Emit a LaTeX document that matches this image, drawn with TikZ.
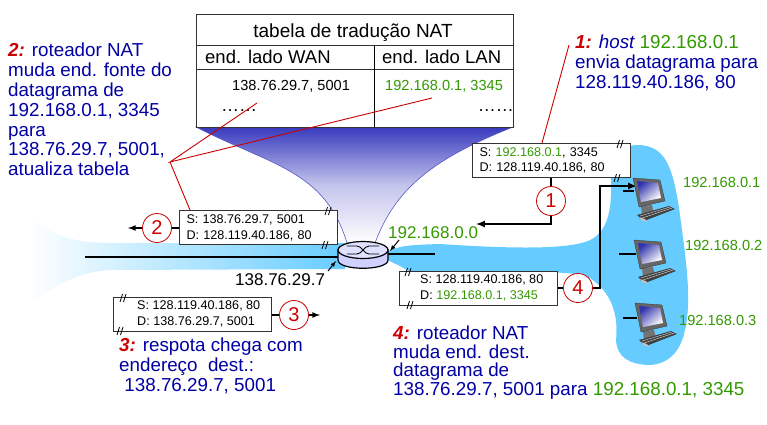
\documentclass[tikz,border=0pt]{standalone}
\usepackage{fontspec}
\setmainfont{Liberation Sans}
\usetikzlibrary{positioning,shapes.geometric}
\definecolor{mygreen}{RGB}{51, 153, 0}
\definecolor{myblue}{RGB}{0, 0, 165}
\definecolor{myred}{RGB}{204, 0, 0}
\definecolor{mylan}{RGB}{102, 204, 255}
\definecolor{myfunnel}{RGB}{56, 58, 190}
\newcommand{\fs}[1]{\fontsize{#1}{#1}\selectfont}
\newcommand{\hdr}[1]{{\color{myred}\bfseries\itshape #1}}
\newcommand{\grn}[1]{{\color{mygreen}#1}}
\tikzset{
    cutmark/.pic={
        \draw[black, line width=0.8pt] (-2,4) -- (0.5,-4) (1.5,4) -- (4,-4);
    },
    pc/.pic={
        \fill[black!55] (8,28) -- (9,37) -- (21,36) -- (19,27) -- cycle;
        \fill[black!70] (5,37) -- (7,41) -- (27,36) -- (25,33) -- cycle;
        \fill[black!60, draw=black!80, line width=0.3pt] (0,0) -- (27,2) -- (32,23) -- (6,29) -- cycle;
        \shade[top color=myfunnel!90!black, bottom color=white, shading angle=40] (4,3) -- (25,5) -- (28,20) -- (8,24) -- cycle;
        \fill[black!75] (4,37) -- (36,28) -- (42,31) -- (11,43) -- cycle;
        \fill[black!25] (6,39) -- (12,41) -- (14,44) -- (8,42) -- cycle;
        \draw[white, line width=0.3pt] (7,38) -- (37,29) (9,40) -- (39,30);
    }
}
\begin{document}
\begin{tikzpicture}[x=1pt,y=-1pt]
    \useasboundingbox (0,0) rectangle (767,424);

    \tikzstyle{bluetext}=[anchor=north west, inner sep=0pt, align=left, color=myblue, font=\fontsize{18.8}{19.8}\selectfont]
    \tikzstyle{ip}=[inner sep=0pt, color=mygreen, font=\fs{14.6}]
    \tikzstyle{pkt}=[draw=black!80, fill=white, line width=1pt, anchor=north west, minimum width=158pt, minimum height=34pt, align=left, inner ysep=0pt, font=\fontsize{12.6}{15.8}\selectfont]
    \tikzstyle{num}=[circle, draw=myred, fill=white, line width=0.8pt, minimum size=29pt, inner sep=0pt, text=myred, font=\fs{20}]
    \tikzstyle{bind}=[->, >=latex, black, line width=2pt]
    \tikzstyle{seg}=[black, line width=1.6pt]
    \tikzstyle{callout}=[myred, line width=0.9pt]

    % networks
    \shade[left color=white, right color=mylan] (27,213) .. controls (50,238) and (80,243) .. (110,243) -- (345,243) -- (345,269) -- (110,270) .. controls (80,272) and (50,285) .. (27,310) -- cycle;
    \fill[mylan] (380,256) .. controls (395,245) and (410,245) .. (440,244) .. controls (500,248) and (560,250) .. (585,242) .. controls (608,235) and (612,210) .. (611,180) .. controls (608,160) and (620,144) .. (640,145) .. controls (665,147) and (673,165) .. (680,215) .. controls (686,260) and (692,300) .. (685,330) .. controls (680,355) and (665,365) .. (648,365) .. controls (630,364) and (617,358) .. (616,340) .. controls (618,320) and (615,295) .. (590,278) .. controls (575,272) and (560,273) .. (540,272) -- (410,272) .. controls (400,265) and (390,262) .. (380,256) -- cycle;

    % funnel
    \shade[top color=myfunnel, bottom color=white, middle color=myfunnel!30, draw=myfunnel!85, line width=0.6pt] (196,127) .. controls (270,165) and (325,170) .. (347,243) -- (375,243) .. controls (395,190) and (430,160) .. (513,127) -- cycle;

    % wires
    \draw[black, line width=1.4pt] (85,257) -- (345,257);
    \draw[black, line width=1.4pt] (380,254) -- (435,254);

    % router
    \draw[black, line width=1.2pt, fill=blue!18] (338,250) -- (338,260) .. controls (338,271) and (388,271) .. (388,260) -- (388,250) -- cycle;
    \node[ellipse, draw=black, line width=1.2pt, fill=blue!12, minimum width=50pt, minimum height=17pt, inner sep=0pt] (router) at (363,250) {};
    \draw[black, line width=0.9pt] (347,246) -- (357,246) .. controls (362,246) and (364,254) .. (369,254) -- (379,254);
    \draw[black, line width=0.9pt] (347,254) -- (357,254) .. controls (362,254) and (364,246) .. (369,246) -- (379,246);

    % table
    \node[draw=black!80, fill=white, line width=1pt, anchor=north west, minimum width=317pt, minimum height=113pt, inner sep=0pt] (tabela) at (196,14) {};
    \draw[black!80, line width=0.8pt] (196,45) -- (513,45);
    \draw[black!80, line width=0.8pt] (196,69) -- (513,69);
    \draw[black, line width=0.8pt] (374,45) -- (374,127);
    \node[inner sep=0pt, font=\fs{19}] (titulo) at (353,33) {tabela de tradução NAT};
    \node[inner sep=0pt, anchor=west, font=\fs{18.5}] (wan) at (205,57) {end. lado WAN};
    \node[inner sep=0pt, anchor=west, font=\fs{18.5}] (lan) at (382,57) {end. lado LAN};
    \node[inner sep=0pt, anchor=west, font=\fs{14.6}] (wanip) at (232,86) {138.76.29.7, 5001};
    \node[ip, anchor=west] (lanip) at (385,86) {192.168.0.1, 3345};
    \node[inner sep=0pt, anchor=west, font=\fs{18}] (wandots) at (221,111) {\ldots\ldots};
    \node[inner sep=0pt, anchor=east, font=\fs{18}] (landots) at (514,111) {\ldots\ldots};

    % callouts
    \coordinate (tip2) at (170,162);
    \coordinate (end2a) at (257,103);
    \coordinate (end2b) at (432,98);
    \coordinate (end2c) at (190,210);
    \coordinate (end1) at (569,45);
    \coordinate (end1b) at (542,143);
    \draw[callout] (end2a) -- (tip2) -- (end2b);
    \draw[callout] (tip2) -- (end2c);
    \draw[callout] (end1) -- (end1b);

    % packets
    \node[pkt, text width=144pt, inner xsep=7pt] (pkt1) at (472,143) {S: \grn{192.168.0.1}, 3345\\D: 128.119.40.186, 80};
    \node[pkt, text width=144pt, inner xsep=7pt] (pkt2) at (179,210) {S: 138.76.29.7, 5001\\D: 128.119.40.186, 80};
    \node[pkt, text width=134pt, inner xsep=0pt, align=left, text depth=0pt] (pkt3) at (113,297) {};
    \node[pkt, text width=134pt, inner xsep=0pt, align=left, text depth=0pt] (pkt4) at (399,271) {};
    \node[anchor=west, inner sep=0pt, align=left, font=\fontsize{12.6}{15.8}\selectfont] (txt3) at (137,314) {S: 128.119.40.186, 80\\D: 138.76.29.7, 5001};
    \node[anchor=west, inner sep=0pt, align=left, font=\fontsize{12.6}{15.8}\selectfont] (txt4) at (420,288) {S: 128.119.40.186, 80\\D: \grn{192.168.0.1, 3345}};
    \pic at (619,144) {cutmark};
    \pic at (616,178) {cutmark};
    \pic at (327,211) {cutmark};
    \pic at (324,245) {cutmark};
    \pic at (122,298) {cutmark};
    \pic at (119,331) {cutmark};
    \pic at (407,272) {cutmark};
    \pic at (409,305) {cutmark};

    % numbered circles and arrows
    \coordinate (to1) at (476,224);
    \coordinate (to2) at (128,228);
    \coordinate (to3) at (320,315);
    \coordinate (to4) at (637,186);
    \coordinate (n1) at (551,201);
    \coordinate (n2) at (157,228);
    \coordinate (n3) at (294,315);
    \coordinate (n4) at (578,288);
    \draw[seg] (pkt1.south -| n1) -- (n1);
    \draw[bind] (n1) -- (n1 |- to1) -- (to1);
    \draw[bind, line width=1.6pt] (n2) -- (to2);
    \draw[seg] (pkt2.west |- n2) -- (n2);
    \draw[seg] (pkt3.east |- n3) -- (n3);
    \draw[bind, line width=1.6pt] (n3) -- (to3);
    \draw[seg] (pkt4.east |- n4) -- (n4);
    \draw[bind] (n4) -- (600,288) -- (600,186) -- (to4);
    \node[num] (c1) at (n1) {1};
    \node[num] (c2) at (n2) {2};
    \node[num] (c3) at (n3) {3};
    \node[num] (c4) at (n4) {4};

    % hosts
    \pic at (633,178) {pc};
    \pic at (634,240) {pc};
    \pic at (635,303) {pc};
    \draw[seg] (623,191) -- (634,191);
    \draw[seg] (619,254) -- (636,254);
    \draw[seg] (623,318) -- (637,318);
    \node[ip, anchor=west] (ip1) at (683,182) {192.168.0.1};
    \node[ip, anchor=west] (ip2) at (685,245) {192.168.0.2};
    \node[ip, anchor=west] (ip3) at (679,320) {192.168.0.3};

    % router addresses
    \node[anchor=west, inner sep=0pt, color=mygreen, font=\fs{17}] (ipin) at (388,233) {192.168.0.0};
    \node[anchor=west, inner sep=0pt, font=\fs{17}] (ipout) at (235,280) {138.76.29.7};
    \coordinate (ipinfrom) at (399,240);
    \coordinate (ipinto) at (390,251);
    \coordinate (ipoutfrom) at (328,271);
    \coordinate (ipoutto) at (336,261);
    \draw[->, >=latex, black, line width=1pt] (ipinfrom) -- (ipinto);
    \draw[->, >=latex, black, line width=1pt] (ipoutfrom) -- (ipoutto);

    % steps
    \node[bluetext] (step2) at (8,43) {\hdr{2:} roteador NAT\\muda end. fonte do\\datagrama de\\192.168.0.1, 3345\\para\\138.76.29.7, 5001,\\atualiza tabela};
    \node[bluetext] (step1) at (575,35) {\hdr{1:} {\itshape host} \grn{192.168.0.1}\\envia datagrama para\\128.119.40.186, 80};
    \node[bluetext] (step3) at (119,338) {\hdr{3:} respota chega com\\endereço~ dest.:\\~138.76.29.7, 5001};
    \node[bluetext, font=\fontsize{18.8}{18.5}\selectfont] (step4) at (393,326) {\hdr{4:} roteador NAT\\muda end. dest.\\datagrama de\\138.76.29.7, 5001 para \grn{192.168.0.1, 3345}};
\end{tikzpicture}
\end{document}
